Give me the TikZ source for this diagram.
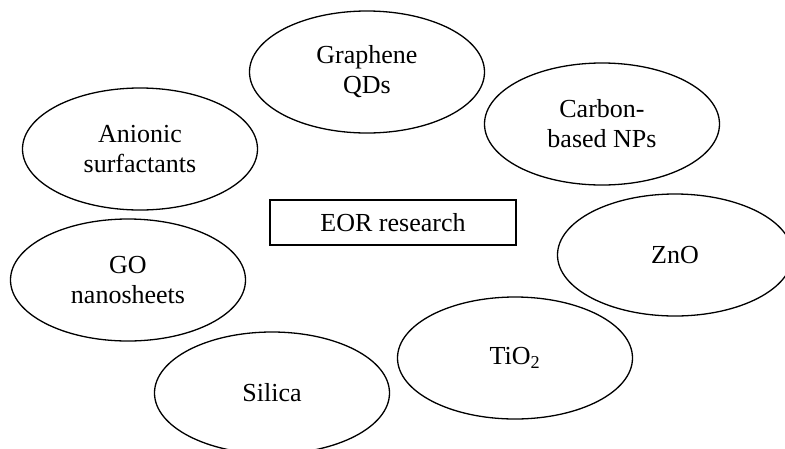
\documentclass[tikz,border=0pt]{standalone}
\usepackage{fontspec}
\setmainfont{Liberation Serif}
\usetikzlibrary{shapes.geometric}
\tikzset{
  bubble/.style={draw, line width=1.3pt, ellipse, minimum width=235pt, minimum height=122pt, inner sep=0pt, align=center, font=\fontsize{26}{30}\selectfont},
  centerbox/.style={draw, line width=1.3pt, rectangle, minimum width=246pt, minimum height=45pt, inner sep=0pt, font=\fontsize{26}{30}\selectfont}
}
\begin{document}
\begin{tikzpicture}[x=1pt,y=-1pt]
\useasboundingbox (0,0) rectangle (785,448);
\clip (0,0) rectangle (785,448);
\node[centerbox] (eor) at (393,222.5) {EOR research};
\node[bubble] (graphene) at (367,72) {Graphene\\QDs};
\node[bubble] (carbon) at (602,124) {Carbon-\\based NPs};
\node[bubble] (anionic) at (140,149) {Anionic\\surfactants};
\node[bubble] (go) at (128,280) {GO\\nanosheets};
\node[bubble] (zno) at (675,255) {ZnO};
\node[bubble] (tio) at (515,358) {TiO\textsubscript{2}};
\node[bubble] (silica) at (272,393) {Silica};
\end{tikzpicture}
\end{document}
